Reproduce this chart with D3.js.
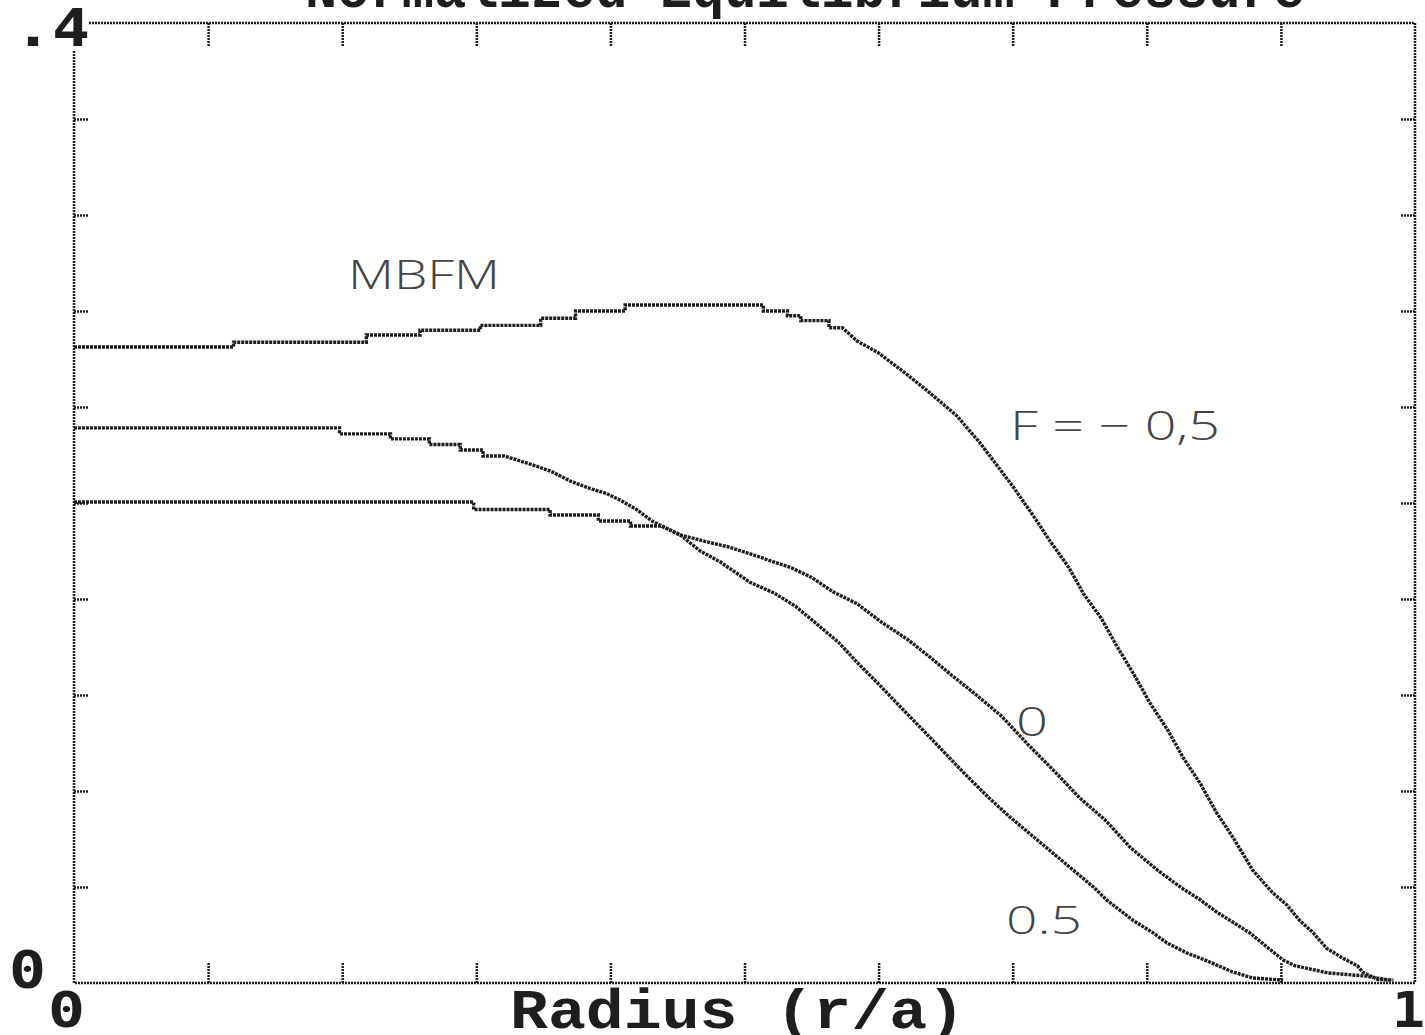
<!DOCTYPE html>
<html><head><meta charset="utf-8">
<script src="https://cdn.jsdelivr.net/npm/d3@7"></script>
<style>
html,body{margin:0;padding:0;background:#fff;}
svg{display:block;}
</style></head>
<body>
<svg id="chart" width="1425" height="1035"></svg>
<script>
// ---- data ----
const seriesNames = ["F = -0,5", "0", "0.5"];
const rFm05 = [0,0.119,0.119,0.218,0.218,0.258,0.258,0.303,0.303,0.348,0.348,0.374,0.374,0.411,0.411,0.514,0.514,0.532,0.532,0.542,0.542,0.563,0.563,0.573,0.584,0.600,0.619,0.638,0.658,0.675,0.700,0.715,0.728,0.742,0.753,0.766,0.777,0.791,0.802,0.816,0.827,0.840,0.852,0.865,0.879,0.894,0.9045,0.914,0.924,0.934,0.946,0.957,0.961,0.972,0.984];
const vFm05 = [0.265,0.265,0.267,0.267,0.270,0.270,0.272,0.272,0.274,0.274,0.277,0.277,0.280,0.280,0.2825,0.2825,0.280,0.280,0.278,0.278,0.276,0.276,0.273,0.273,0.2675,0.2625,0.2545,0.246,0.2365,0.2255,0.207,0.195,0.184,0.173,0.162,0.152,0.141,0.128,0.117,0.105,0.094,0.083,0.071,0.060,0.047,0.0375,0.0325,0.026,0.021,0.0145,0.0104,0.0072,0.0045,0.0015,0.0012];
const rF0 = [0,0.298,0.298,0.355,0.355,0.391,0.391,0.415,0.415,0.438,0.452,0.4705,0.488,0.5086,0.521,0.535,0.550,0.566,0.584,0.603,0.622,0.640,0.655,0.673,0.692,0.711,0.731,0.750,0.769,0.788,0.808,0.826,0.840,0.852,0.864,0.877,0.8896,0.9016,0.9105,0.935,0.963,0.981];
const vF0 = [0.2004,0.2004,0.1973,0.1973,0.195,0.195,0.1925,0.1925,0.1904,0.1904,0.1867,0.184,0.1817,0.178,0.1756,0.173,0.169,0.163,0.158,0.150,0.143,0.135,0.128,0.120,0.111,0.0996,0.0883,0.0771,0.0679,0.0563,0.047,0.0396,0.0346,0.0296,0.0254,0.0208,0.015,0.0096,0.0072,0.0042,0.0029,0.0012];
const rF05 = [0,0.198,0.198,0.236,0.236,0.265,0.265,0.288,0.288,0.305,0.305,0.321,0.330,0.3445,0.3565,0.3706,0.385,0.397,0.408,0.419,0.431,0.452,0.467,0.482,0.504,0.522,0.538,0.553,0.570,0.585,0.601,0.617,0.633,0.6495,0.665,0.6816,0.697,0.713,0.729,0.745,0.761,0.770,0.790,0.805,0.815,0.830,0.845,0.864,0.879,0.9016];
const vF05 = [0.2313,0.2313,0.2288,0.2288,0.2267,0.2267,0.2244,0.2244,0.2221,0.2221,0.2196,0.2196,0.218,0.2154,0.213,0.209,0.206,0.204,0.201,0.1975,0.1925,0.1867,0.180,0.1754,0.167,0.1625,0.157,0.150,0.142,0.133,0.124,0.1146,0.1054,0.0958,0.0867,0.0775,0.0696,0.0621,0.0546,0.0471,0.0396,0.0346,0.026,0.0208,0.0167,0.0125,0.0092,0.0046,0.0021,0.0012];
const xTickValues = [0,0.1,0.2,0.3,0.4,0.5,0.6,0.7,0.8,0.9,1];
const yTickValues = [0,0.04,0.08,0.12,0.16,0.2,0.24,0.28,0.32,0.36,0.4];
const xTickLabels = ["0","1"];
const yTickLabels = ["0",".4"];
const xTitle = "Radius (r/a)";
const chartTitle = "Normalized Equilibrium Pressure";
const curveLabels = ["MBFM","F = \u2212 0,5","0","0.5"];

// ---- drawing ----
const svg = d3.select("#chart");
const x = d3.scaleLinear().domain([0,1]).range([74,1415]);
const y = d3.scaleLinear().domain([0,0.4]).range([983,23]);
const ink = "#1e1e1e";

// title (cropped at top of image, as in the reference)
svg.append("text").attr("x", 805).attr("y", 7)
  .attr("text-anchor","middle")
  .attr("font-family","Liberation Mono").attr("font-weight","bold")
  .attr("font-size",60).attr("fill",ink)
  .attr("textLength",1000).attr("lengthAdjust","spacingAndGlyphs")
  .text(chartTitle);

const g = svg.append("g");
// frame
g.append("rect").attr("x",x(0)).attr("y",y(0.4)).attr("width",x(1)-x(0)).attr("height",y(0)-y(0.4))
  .attr("fill","none").attr("stroke",ink).attr("stroke-width",2.5).attr("stroke-dasharray","2,1");

const inner = xTickValues.slice(1,-1);
const innerY = yTickValues.slice(1,-1);
function styleAxis(sel){
  sel.select(".domain").remove();
  sel.selectAll(".tick line").attr("stroke",ink).attr("stroke-width",2.5).attr("stroke-dasharray","2,1");
  sel.selectAll(".tick text").remove();
}
g.append("g").attr("transform",`translate(0,${y(0)})`)
  .call(d3.axisTop(x).tickValues(inner).tickSize(21)).call(styleAxis);
g.append("g").attr("transform",`translate(0,${y(0.4)})`)
  .call(d3.axisBottom(x).tickValues(inner).tickSize(24)).call(styleAxis);
g.append("g").attr("transform",`translate(${x(0)},0)`)
  .call(d3.axisRight(y).tickValues(innerY).tickSize(14)).call(styleAxis);
g.append("g").attr("transform",`translate(${x(1)},0)`)
  .call(d3.axisLeft(y).tickValues(innerY).tickSize(14)).call(styleAxis);

// curves
const line = d3.line().x(d=>x(d[0])).y(d=>y(d[1])).curve(d3.curveLinear);
const series = [
  d3.zip(rFm05,vFm05),
  d3.zip(rF0,vF0),
  d3.zip(rF05,vF05)
];
g.selectAll("path.curve").data(series).join("path").attr("class","curve")
  .attr("d",line).attr("fill","none").attr("stroke",ink)
  .attr("stroke-width",3.4).attr("stroke-dasharray","3,1");

// tick labels
const lab = svg.append("g").attr("font-family","DejaVu Sans Mono").attr("font-weight","bold").attr("fill",ink);
// white box hiding the frame corner behind ".4"
lab.append("rect").attr("x",x(0)-4).attr("y",y(0.4)-3).attr("width",18).attr("height",30).attr("fill","#fff");
lab.append("text").attr("x",14).attr("y",46).attr("font-size",52)
  .attr("textLength",76).attr("lengthAdjust","spacingAndGlyphs").text(yTickLabels[1]);
lab.append("text").attr("x",9).attr("y",988).attr("font-size",52)
  .attr("textLength",37).attr("lengthAdjust","spacingAndGlyphs").text(yTickLabels[0]);
lab.append("text").attr("x",48).attr("y",1027).attr("font-size",50)
  .attr("textLength",37).attr("lengthAdjust","spacingAndGlyphs").text(xTickLabels[0]);
lab.append("text").attr("x",1392).attr("y",1027).attr("font-size",50)
  .attr("textLength",33).attr("lengthAdjust","spacingAndGlyphs").text(xTickLabels[1]);

// axis title
svg.append("text").attr("x",510).attr("y",1028)
  .attr("font-family","Liberation Mono").attr("font-weight","bold").attr("font-size",56)
  .attr("fill",ink).attr("textLength",455).attr("lengthAdjust","spacingAndGlyphs")
  .text(xTitle);

// handwritten curve labels
const hw = svg.append("g").attr("font-family","Open Sans").attr("font-weight",300).attr("fill","#444");
hw.append("text").attr("x",348).attr("y",289).attr("font-size",40)
  .attr("textLength",152).attr("lengthAdjust","spacingAndGlyphs").text(curveLabels[0]);
hw.append("text").attr("x",1010).attr("y",440).attr("font-size",40)
  .attr("textLength",210).attr("lengthAdjust","spacingAndGlyphs").text(curveLabels[1]);
hw.append("text").attr("x",1016).attr("y",736).attr("font-size",40)
  .attr("textLength",32).attr("lengthAdjust","spacingAndGlyphs").text(curveLabels[2]);
hw.append("text").attr("x",1006).attr("y",934).attr("font-size",38)
  .attr("textLength",76).attr("lengthAdjust","spacingAndGlyphs").text(curveLabels[3]);
</script>
</body></html>
